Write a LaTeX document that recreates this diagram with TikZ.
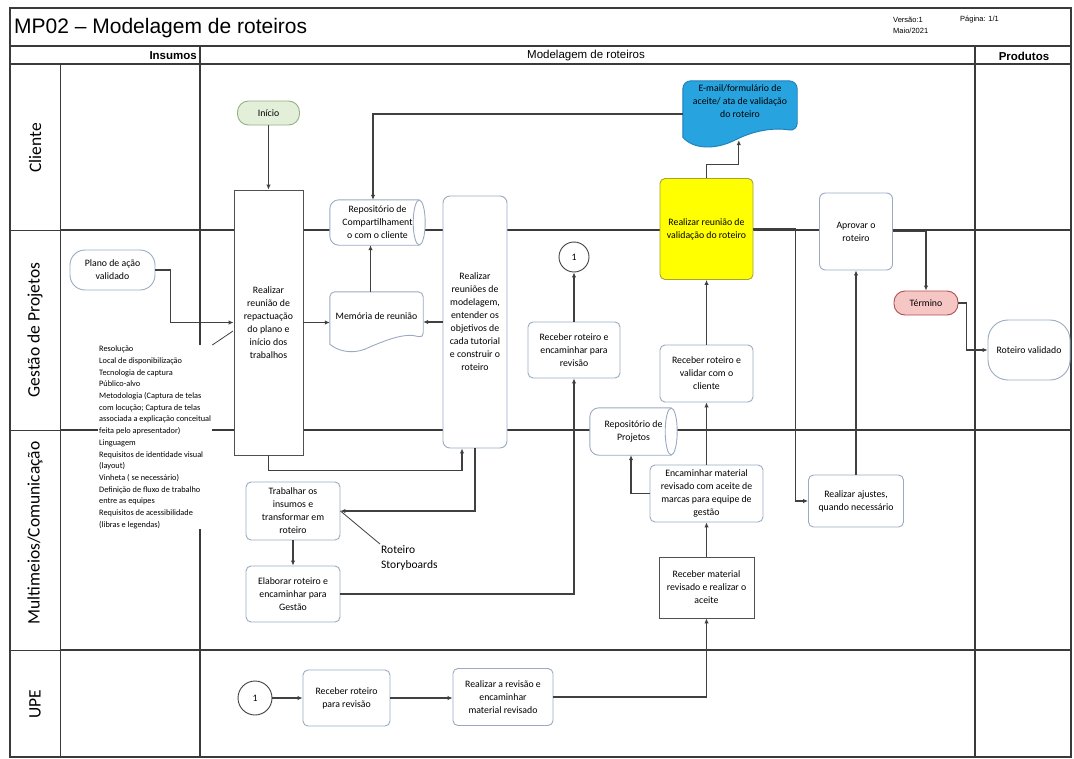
\documentclass[tikz,border=0pt]{standalone}
\usepackage{fontspec}
\setmainfont{Liberation Sans}
\newfontfamily\calfam{Carlito}
\usetikzlibrary{arrows.meta,calc}
\definecolor{linec}{HTML}{404040}
\definecolor{framec}{HTML}{3A3A3A}
\definecolor{boxc}{HTML}{9AAAC2}
\definecolor{darkc}{HTML}{505050}
\definecolor{inifill}{HTML}{E3EFD8}
\definecolor{inidraw}{HTML}{97B083}
\definecolor{termfill}{HTML}{F5C6C4}
\definecolor{termdraw}{HTML}{B0504C}
\definecolor{emfill}{HTML}{27A4E0}
\definecolor{emdraw}{HTML}{1C7FB8}
\definecolor{valfill}{HTML}{FFFF00}
\definecolor{valdraw}{HTML}{A3A336}
\newcommand\nf{\calfam\fontsize{9.8}{13}\selectfont}
\newcommand\lf{\calfam\fontsize{8.3}{11.67}\selectfont}
\newcommand\lanef{\calfam\fontsize{17.5}{20}\selectfont}
\newcommand\hf{\fontsize{11.5}{13}\selectfont}
\pgfdeclarelayer{lanes}
\pgfdeclarelayer{shapes}
\pgfsetlayers{lanes,shapes,main}
\tikzset{
  ln/.style={draw=linec, line width=1.1pt},
  arr/.style={ln, -{Latex[length=5pt,width=4.5pt]}},
  box/.style={draw=boxc, line width=0.9pt, fill=white, rounded corners=5pt, align=center, font=\nf, inner sep=1pt},
  sbox/.style={box, rounded corners=0pt, draw=darkc},
  txt/.style={align=center, font=\nf, inner sep=1pt},
  shp/.style={draw=boxc, fill=white, line width=0.9pt},
  lanelbl/.style={rotate=90, font=\lanef},
}
\newcommand\drawcyl[2]{%
  \filldraw[shp, rounded corners=9pt] ([xshift=-6pt]#1.north east) -- (#1.north west) -- (#1.south west) -- ([xshift=-6pt]#1.south east);
  \filldraw[shp] ([xshift=-6pt]#1.east) ellipse [x radius=6, y radius=#2];
}
\begin{document}
\begin{tikzpicture}[x=1pt,y=-1pt]
\useasboundingbox (0,0) rectangle (1074,758);
\begin{pgfonlayer}{lanes}
\fill[white] (0,0) rectangle (1074,758);
\draw[framec, line width=1.2pt] (10,8) rectangle (1071,757);
\draw[framec, line width=1.6pt] (10,46) -- (1071,46);
\draw[framec, line width=1.6pt] (10,64) -- (1071,64);
\draw[framec, line width=1.8pt] (200,46) -- (200,757);
\draw[framec, line width=1.8pt] (975,46) -- (975,757);
\draw[framec, line width=1pt] (60,64) -- (60,757);
\foreach \yy in {230,430,650}{
  \draw[framec, line width=1pt] (10,\yy) -- (60,\yy);
  \draw[framec, line width=2.6pt] (60,\yy) -- (1071,\yy);
}
\end{pgfonlayer}

% header
\node[anchor=west, font=\fontsize{21}{24}\selectfont, inner sep=0pt] (title) at (14,28) {MP02 -- Modelagem de roteiros};
\node[anchor=west, font=\fontsize{7.5}{8}\selectfont, inner sep=0pt] (ver) at (893,20) {Versão:1};
\node[anchor=west, font=\fontsize{7.5}{8}\selectfont, inner sep=0pt] (dat) at (893,31) {Maio/2021};
\node[anchor=west, font=\fontsize{7.5}{8}\selectfont, inner sep=0pt] (pag) at (960,20) {Página: 1/1};
\node[anchor=east, font=\hf\bfseries, inner sep=0pt] (hins) at (197,56) {Insumos};
\node[font=\hf, inner sep=0pt] (hmod) at (586,56) {Modelagem de roteiros};
\node[font=\hf\bfseries, inner sep=0pt] (hpro) at (1024,56) {Produtos};

% lane labels
\node[lanelbl] (lcli) at (35,148) {Cliente};
\node[lanelbl] (lges) at (35,330) {Gestão de Projetos};
\node[lanelbl] (lmul) at (35,533) {Multimeios/Comunicação};
\node[lanelbl] (lupe) at (35,704) {UPE};

% insumos list
\node[font=\lf, align=left, anchor=north west, fill=white, inner sep=1pt] (lst) at (98,345) {Resolução\\Local de disponibilização\\Tecnologia de captura\\Público-alvo\\Metodologia (Captura de telas\\com locução; Captura de telas\\associada a explicação conceitual\\feita pelo apresentador)\\Linguagem\\Requisitos de identidade visual\\(layout)\\Vinheta ( se necessário)\\Definição de fluxo de trabalho\\entre as equipes\\Requisitos de acessibilidade\\(libras e legendas)};
\coordinate (lsttip) at (233,331);

% nodes
\node[box, fill=inifill, draw=inidraw, rounded corners=11pt, minimum width=62, minimum height=24] (ini) at (268.5,113) {Início};
\node[sbox, minimum width=69, minimum height=265] (rep) at (268.5,322.5) {Realizar\\reunião de\\repactuação\\do plano e\\início dos\\trabalhos};
\node[txt, minimum width=95, minimum height=45] (rc) at (377.5,222.5) {Repositório de\\Compartilhament\\o com o cliente};
\node[txt, minimum width=93, minimum height=48] (mem) at (376.5,316) {Memória de reunião};
\node[box, rounded corners=7pt, minimum width=64, minimum height=252] (reu) at (475,322) {Realizar\\reuniões de\\modelagem,\\entender os\\objetivos de\\cada tutorial\\e construir o\\roteiro};
\node[circle, draw=linec, line width=0.9pt, fill=white, minimum size=30, font=\nf, inner sep=0pt] (c1) at (574,257) {1};
\node[box, minimum width=92, minimum height=56] (rec1) at (574,350) {Receber roteiro  e\\encaminhar para\\revisão};
\node[txt, minimum width=114, minimum height=40] (em) at (740,101) {E-mail/formulário de\\aceite/ ata de validação\\do roteiro};
\coordinate (emb) at ($(em.south west)+(56,19)$);
\node[box, fill=valfill, draw=valdraw, minimum width=93, minimum height=101] (val) at (706.5,229) {Realizar reunião de\\validação do roteiro};
\node[box, minimum width=93, minimum height=57] (recv) at (706.5,373.5) {Receber roteiro e\\validar com o\\cliente};
\node[txt, minimum width=87, minimum height=47] (repp) at (633.5,431.5) {Repositório de\\Projetos};
\node[box, minimum width=113, minimum height=57] (enc) at (706.5,493.5) {Encaminhar material\\revisado com aceite de\\marcas para equipe de\\gestão};
\node[sbox, minimum width=95, minimum height=61] (recm) at (706.5,587.5) {Receber material\\revisado e realizar o\\aceite};
\node[box, rounded corners=6pt, minimum width=73, minimum height=77] (apr) at (856,231.5) {Aprovar o\\roteiro};
\node[box, fill=termfill, draw=termdraw, rounded corners=11pt, minimum width=64, minimum height=24] (term) at (926,303) {Término};
\node[box, rounded corners=20pt, minimum width=82, minimum height=60] (rv) at (1029,350) {Roteiro validado};
\node[box, rounded corners=15pt, minimum width=85, minimum height=40] (plano) at (112.5,270) {Plano de ação\\validado};
\node[box, minimum width=95, minimum height=52] (ajs) at (856,501) {Realizar ajustes,\\quando necessário};
\node[box, minimum width=94, minimum height=58] (trab) at (293,511) {Trabalhar os\\insumos  e\\transformar em\\roteiro};
\node[box, minimum width=94, minimum height=56] (ela) at (293,594) {Elaborar roteiro e\\encaminhar para\\Gestão};
\node[font=\calfam\fontsize{11.5}{15}\selectfont, align=left, anchor=north west, inner sep=1pt] (sb) at (380,544) {Roteiro\\Storyboards};
\node[circle, draw=linec, line width=0.9pt, fill=white, minimum size=34, font=\nf, inner sep=0pt] (c2) at (255,698) {1};
\node[box, minimum width=87, minimum height=56] (recr) at (346.5,698) {Receber roteiro\\para revisão};
\node[box, minimum width=100, minimum height=57] (rea) at (503,697) {Realizar a revisão e\\encaminhar\\material revisado};

% special shapes
\begin{pgfonlayer}{shapes}
\drawcyl{rc}{22.5}
\drawcyl{repp}{23.5}
\filldraw[shp] ($(mem.south west)+(0,4)$) [rounded corners=5pt] -- (mem.north west) -- (mem.north east) -- ($(mem.south east)+(0,-2)$) [sharp corners]
  .. controls ($(mem.south east)+(-18,-8)$) and ($(mem.south east)+(-38,0)$) .. ($(mem.south west)+(35,9)$)
  .. controls ($(mem.south west)+(22,14)$) and ($(mem.south west)+(8,11)$) .. ($(mem.south west)+(0,4)$) -- cycle;
\filldraw[draw=emdraw, fill=emfill, line width=0.9pt] ($(em.south west)+(0,16)$) [rounded corners=8pt] -- (em.north west) -- (em.north east) -- ($(em.south east)+(0,10)$) [sharp corners]
  .. controls ($(em.south east)+(-19,7)$) and ($(em.south east)+(-39,7)$) .. ($(em.south west)+(52,19)$)
  .. controls ($(em.south west)+(32,29)$) and ($(em.south west)+(10,28)$) .. ($(em.south west)+(0,16)$) -- cycle;
\end{pgfonlayer}

% connectors
\draw[arr] (ini.south) -- (rep.north);
\draw[arr] (plano.east) -- ++(15,0) |- (rep.west);
\draw[ln, line width=0.8pt] (lst.north east) -- (lsttip);
\draw[arr] (rep.east) -- (rep.east -| mem.west);
\draw[arr] ([xshift=-6pt]mem.north) -- ([xshift=-6pt]mem.north |- rc.south);
\draw[arr] (reu.west) -- (reu.west -| mem.east);
\draw[arr] ([yshift=-13pt]em.west) -| ([xshift=-4.5pt]rc.north);
\draw[arr] (rep.south) -- ++(0,15) -| ([xshift=-13pt]reu.south);
\draw[arr] (reu.south) |- (trab.east);
\draw[ln, line width=0.8pt] (sb.north west) -- (trab.east);
\draw[arr] (trab.south) -- (ela.north);
\draw[arr] (ela.east) -| (rec1.south);
\draw[arr] (rec1.north) -- (c1.south);
\draw[arr] (c2.east) -- (recr.west);
\draw[arr] (recr.east) -- (recr.east -| rea.west);
\draw[arr] (rea.east) -| (recm.south);
\draw[arr] (recm.north) -- (enc.south);
\draw[arr] (enc.west) -| ([xshift=-2.5pt]repp.south);
\draw[arr] (enc.north) -- (recv.south);
\draw[arr] (recv.north) -- (val.south);
\draw[arr] (val.north) -- ++(0,-14) -| (emb);
\draw[arr] (val.east) -- ++(42,0) |- (ajs.west);
\draw[arr] (ajs.north) -- (apr.south);
\draw[arr] (apr.east) -| (term.north);
\draw[arr] (term.east) -- ++(8,0) |- (rv.west);
\end{tikzpicture}
\end{document}
